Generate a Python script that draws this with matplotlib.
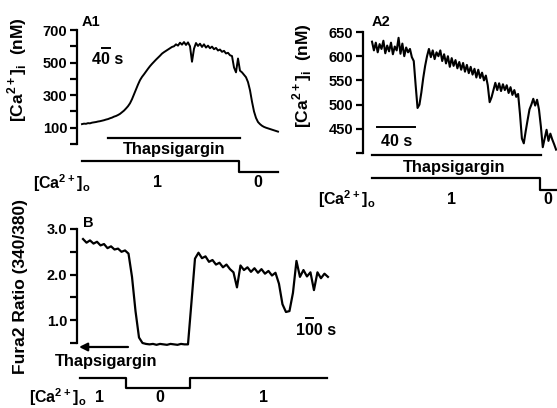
import matplotlib.pyplot as plt
from matplotlib.transforms import blended_transform_factory

plt.rcParams['font.family'] = ['Liberation Sans', 'DejaVu Sans']
plt.rcParams['font.weight'] = 'bold'
plt.rcParams['mathtext.fontset'] = 'custom'
plt.rcParams['mathtext.rm'] = 'Liberation Sans:bold'
plt.rcParams['mathtext.bf'] = 'Liberation Sans:bold'

# ---- panel A1: [Ca2+]i (nM), one sample every 10 s
a1_time = list(range(0, 990, 10))
a1_ca = [122, 125, 124, 128, 127, 131, 133, 135, 138, 140,
         143, 146, 150, 153, 158, 162, 168, 172, 178, 185,
         195, 205, 218, 232, 250, 275, 305, 335, 365, 392,
         412, 428, 445, 462, 478, 492, 505, 518, 530, 542,
         555, 564, 572, 580, 588, 596, 600, 612, 604, 622,
         610, 626, 608, 624, 600, 505, 585, 620, 602, 616,
         596, 612, 592, 604, 588, 598, 582, 590, 574, 580,
         566, 572, 556, 560, 545, 540, 470, 440, 525, 450,
         440, 425, 410, 380, 330, 260, 200, 160, 135, 122,
         112, 105, 100, 96, 92, 88, 84, 80, 76]
a1_thaps = [130, 790]              # time span of thapsigargin bar (s)
a1_ca_o_time = [0, 785, 980]       # switch times of external Ca
a1_ca_o = ["1", "0"]

# ---- panel A2: [Ca2+]i (nM), one sample every 2 s
a2_time = list(range(0, 196, 2))
a2_ca = [630, 612, 628, 608, 625, 615, 632, 606, 622, 610,
         628, 604, 620, 612, 638, 605, 626, 600, 618, 608,
         615, 598, 590, 540, 493, 500, 525, 555, 580, 600,
         615, 598, 612, 594, 608, 600, 612, 590, 604, 585,
         600, 578, 596, 580, 592, 575, 588, 572, 586, 568,
         582, 565, 578, 562, 574, 556, 572, 555, 566, 550,
         560, 540, 505, 515, 530, 545, 530, 544, 528, 542,
         530, 540, 524, 536, 520, 530, 516, 522, 480, 430,
         420, 445, 468, 490, 500, 512, 498, 510, 490, 455,
         412, 430, 448, 425, 440, 428, 418, 407]
a2_thaps = [0, 178]
a2_ca_o_time = [0, 177, 195]
a2_ca_o = ["1", "0"]

# ---- panel B: Fura2 ratio (340/380), one sample every 50 s
b_time = list(range(0, 3550, 50))
b_ratio = [2.78, 2.70, 2.75, 2.68, 2.72, 2.64, 2.67, 2.58, 2.62, 2.55,
           2.57, 2.50, 2.53, 2.46, 1.95, 1.20, 0.62, 0.50, 0.48, 0.47,
           0.48, 0.46, 0.48, 0.47, 0.46, 0.48, 0.47, 0.46, 0.48, 0.47,
           0.47, 1.40, 2.35, 2.48, 2.36, 2.40, 2.28, 2.32, 2.22, 2.26,
           2.16, 2.22, 2.12, 2.05, 1.72, 2.20, 2.10, 2.16, 2.06, 2.14,
           2.04, 2.12, 2.02, 2.08, 1.98, 2.04, 1.80, 1.35, 1.18, 1.20,
           1.60, 2.30, 1.95, 2.10, 1.96, 2.05, 1.66, 2.05, 1.92, 2.02,
           1.95]
b_thaps = [643, -57]               # arrow tail -> head (s)
b_ca_o_time = [-43, 615, 1530, 3490]
b_ca_o = ["1", "0", "1"]

CA_O = r"[Ca$^{\mathbf{2+}}$]$_{\mathbf{o}}$"
CA_I = r"[Ca$^{\mathbf{2+}}$]$_{\mathbf{i}}$  (nM)"
W, H = 557, 408
fig = plt.figure(figsize=(W / 100, H / 100), dpi=100)


def px_axes(left, top, right, bottom):
    return fig.add_axes([left / W, 1 - bottom / H, (right - left) / W, (bottom - top) / H])


def style(ax):
    for s in ['top', 'right', 'bottom']:
        ax.spines[s].set_visible(False)
    ax.spines['left'].set_linewidth(1.6)
    ax.tick_params(axis='y', which='both', direction='out', length=5, width=1.6,
                   pad=2, labelsize=10.5)
    ax.set_xticks([])
    ax.patch.set_visible(False)


def ca_steps(ax, times, levels, y_hi, y_lo):
    tr = blended_transform_factory(ax.transData, ax.transAxes)
    xs, ys = [], []
    for i, lev in enumerate(levels):
        y = y_hi if lev == "1" else y_lo
        xs += [times[i], times[i + 1]]
        ys += [y, y]
    ax.plot(xs, ys, color='black', lw=1.6, transform=tr, clip_on=False)


def ptext(x, y, s, **kw):
    fig.text(x / W, 1 - y / H, s, fontweight='bold', **kw)


# ================= A1
ax1 = px_axes(77, 30, 280, 144)
ax1.plot(a1_time, a1_ca, color='black', lw=1.4, clip_on=False)
ax1.set_xlim(-25, 990)
ax1.set_ylim(0, 700)
ax1.set_yticks([100, 300, 500, 700])
ax1.set_yticks([0, 200, 400, 600], minor=True)
style(ax1)
tr1 = blended_transform_factory(ax1.transData, ax1.transAxes)
ax1.plot(a1_thaps, [0.053, 0.053], color='black', lw=1.6, transform=tr1, clip_on=False)
ax1.text(sum(a1_thaps) / 2, -0.05, "Thapsigargin", transform=tr1, ha='center',
         va='center', fontsize=11.8, fontweight='bold')
ca_steps(ax1, a1_ca_o_time, a1_ca_o, -0.149, -0.246)
ax1.plot([100, 140], [0.842, 0.842], color='black', lw=1.4, transform=tr1, clip_on=False)
ax1.text(128, 0.74, "40 s", transform=tr1, ha='center', va='center', fontsize=11.5)
ax1.text(0, 1.07, "A1", transform=tr1, ha='left', va='center', fontsize=10.5)
ptext(17, 70, CA_I, rotation=90, ha='center', va='center', fontsize=12.5)
ptext(62, 183, CA_O, ha='center', va='center', fontsize=11.5)
ptext(157, 183, a1_ca_o[0], ha='center', va='center', fontsize=11.5)
ptext(258, 183, a1_ca_o[1], ha='center', va='center', fontsize=11.5)

# ================= A2
ax2 = px_axes(363, 32, 557, 153)
ax2.plot(a2_time, a2_ca, color='black', lw=1.5, clip_on=False)
ax2.set_xlim(-9.5, 195)
ax2.set_ylim(400, 650)
ax2.set_yticks([450, 500, 550, 600, 650])
ax2.set_yticks([400], minor=True)
style(ax2)
tr2 = blended_transform_factory(ax2.transData, ax2.transAxes)
ax2.plot(a2_thaps, [-0.017, -0.017], color='black', lw=1.6, transform=tr2, clip_on=False)
ax2.text(87, -0.116, "Thapsigargin", transform=tr2, ha='center', va='center', fontsize=11.8)
ca_steps(ax2, a2_ca_o_time, a2_ca_o, -0.207, -0.306)
ax2.plot([5, 45], [0.215, 0.215], color='black', lw=1.4, transform=tr2, clip_on=False)
ax2.text(26, 0.099, "40 s", transform=tr2, ha='center', va='center', fontsize=11.5)
ax2.text(0, 1.08, "A2", transform=tr2, ha='left', va='center', fontsize=10.5)
ptext(302, 76, CA_I, rotation=90, ha='center', va='center', fontsize=12.5)
ptext(347, 199, CA_O, ha='center', va='center', fontsize=11.5)
ptext(452, 199, a2_ca_o[0], ha='center', va='center', fontsize=11.5)
ptext(548, 199, a2_ca_o[1], ha='center', va='center', fontsize=11.5)

# ================= B
axb = px_axes(77, 229, 329, 343)
axb.plot(b_time, b_ratio, color='black', lw=1.6, clip_on=False)
axb.set_xlim(-86, 3515)
axb.set_ylim(0.5, 3.0)
axb.set_yticks([1.0, 2.0, 3.0])
axb.set_yticklabels(["1.0", "2.0", "3.0"])
axb.set_yticks([0.5, 1.5, 2.5], minor=True)
style(axb)
trb = blended_transform_factory(axb.transData, axb.transAxes)
axb.annotate("", xy=(b_thaps[1], -0.035), xytext=(b_thaps[0], -0.035),
             xycoords=trb, textcoords=trb,
             arrowprops=dict(arrowstyle='-|>', color='black', lw=1.6,
                             mutation_scale=12, shrinkA=0, shrinkB=0))
axb.text(330, -0.158, "Thapsigargin", transform=trb, ha='center', va='center', fontsize=11.8)
ca_steps(axb, b_ca_o_time, b_ca_o, -0.307, -0.395)
axb.plot([3190, 3290], [0.22, 0.22], color='black', lw=1.4, transform=trb, clip_on=False)
axb.text(3330, 0.114, "100 s", transform=trb, ha='center', va='center', fontsize=11.5)
axb.text(0, 1.05, "B", transform=trb, ha='left', va='center', fontsize=10.5)
ptext(21, 287, "Fura2 Ratio (340/380)", rotation=90, ha='center', va='center', fontsize=12.5)
ptext(58, 397, CA_O, ha='center', va='center', fontsize=11.5)
ptext(99, 397, b_ca_o[0], ha='center', va='center', fontsize=11.5)
ptext(160, 397, b_ca_o[1], ha='center', va='center', fontsize=11.5)
ptext(263, 397, b_ca_o[2], ha='center', va='center', fontsize=11.5)

fig.savefig("out.png", dpi=100)
